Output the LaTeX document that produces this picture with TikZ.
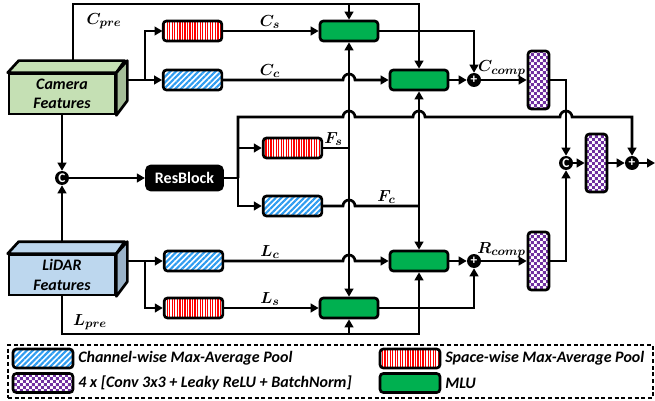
\documentclass[tikz,border=0pt]{standalone}
\usepackage{fontspec}
\usepackage{bm}
\usepackage{tikz}
\usetikzlibrary{positioning,arrows.meta,calc,patterns,patterns.meta}
\newfontfamily\calibri{Carlito}
\definecolor{CamGreen}{HTML}{C5E0B4}
\definecolor{CamSide}{HTML}{A5BD98}
\definecolor{LidarBlue}{HTML}{BDD7EE}
\definecolor{LidarSide}{HTML}{9AB2C8}
\definecolor{MluGreen}{HTML}{00B050}
\definecolor{ChkPurple}{HTML}{7030A0}
\definecolor{StripeBlue}{HTML}{2E9CF0}
\pgfdeclarepatternformonly{finecheck}{\pgfpointorigin}{\pgfqpoint{4.4pt}{4.4pt}}{\pgfqpoint{4.4pt}{4.4pt}}{%
  \pgfpathrectangle{\pgfpointorigin}{\pgfqpoint{2.2pt}{2.2pt}}%
  \pgfpathrectangle{\pgfqpoint{2.2pt}{2.2pt}}{\pgfqpoint{2.2pt}{2.2pt}}%
  \pgfusepath{fill}}

\begin{document}
\begin{tikzpicture}[x=0.75pt, y=0.75pt,
  feat/.style={draw=black, line width=2pt, minimum width=79.5pt, minimum height=30pt, inner sep=0pt, align=center, font=\calibri\bfseries\itshape\fontsize{12}{14.5}\selectfont},
  face/.style={draw=black, line width=2pt, line join=round},
  sbox/.style={draw, line width=2pt, rounded corners=2.5pt, inner sep=0pt, minimum width=44pt, minimum height=15pt, pattern={Lines[angle=90,distance=1.9pt,line width=0.95pt]}, pattern color=red},
  cbox/.style={draw, line width=2pt, rounded corners=2.5pt, inner sep=0pt, minimum width=44pt, minimum height=15pt, pattern={Lines[angle=45,distance=3pt,line width=1.6pt]}, pattern color=StripeBlue},
  mlu/.style={draw, line width=2pt, rounded corners=2.5pt, inner sep=0pt, fill=MluGreen, minimum width=43.5pt, minimum height=15pt},
  conv/.style={draw, line width=2pt, rounded corners=2.5pt, inner sep=0pt, pattern=finecheck, pattern color=ChkPurple, minimum width=15.75pt, minimum height=43.5pt},
  res/.style={fill=black, rounded corners=4pt, text=white, minimum width=59pt, minimum height=20pt, inner sep=0pt, font=\calibri\bfseries\fontsize{12}{14}\selectfont},
  op/.style={circle, fill=black, minimum size=10.5pt, inner sep=0pt, text=white, font=\calibri\bfseries\fontsize{10}{10}\selectfont},
  lbl/.style={anchor=south, inner sep=0pt, font=\fontsize{12.5}{14}\selectfont},
  leg/.style={anchor=west, inner sep=0pt, font=\calibri\bfseries\itshape\fontsize{12}{14}\selectfont},
  wire/.style={line width=2pt},
  flow/.style={-{Triangle[length=6pt,width=6.5pt]}, line width=2pt}]
\useasboundingbox (0,0) rectangle (655,400);

\node[feat, fill=CamGreen] (camera) at (62,306) {Camera\\Features};
\draw[face, fill=CamGreen] (camera.north west) -- ++(11,12) -- ++(106,0) -- (camera.north east) -- cycle;
\draw[face, fill=CamSide] (camera.north east) -- ++(11,12) -- ++(0,-40) -- (camera.south east) -- cycle;
\node[feat, fill=LidarBlue] (lidar) at (62,125) {LiDAR\\Features};
\draw[face, fill=LidarBlue] (lidar.north west) -- ++(11,12) -- ++(106,0) -- (lidar.north east) -- cycle;
\draw[face, fill=LidarSide] (lidar.north east) -- ++(11,12) -- ++(0,-40) -- (lidar.south east) -- cycle;

\node[op] (cat1) at (62,222) {C};
\node[res] (resblock) at (184.5,222) {ResBlock};

\node[sbox] (cs) at (192.5,369) {};
\node[cbox] (cc) at (192.5,320) {};
\node[sbox] (fs) at (292.5,252) {};
\node[cbox] (fc) at (292.5,194) {};
\node[cbox] (lc) at (193.5,139) {};
\node[sbox] (ls) at (193.5,92) {};

\node[mlu] (mlu1) at (349,369) {};
\node[mlu] (mlu2) at (419,320) {};
\node[mlu] (mlu4) at (419,139) {};
\node[mlu] (mlu3) at (349,92) {};

\node[op] (plusc) at (474,320) {+};
\node[op] (plusr) at (474,139) {+};
\node[conv] (conv1) at (538.5,320) {};
\node[conv] (conv3) at (538.5,139) {};
\node[op] (cat2) at (566,237) {C};
\node[conv] (conv2) at (596.5,237) {};
\node[op] (plusf) at (632,237) {+};

\coordinate (ctop) at (73,338);
\coordinate (topr) at (419,396);
\coordinate (ltop) at (62,157);
\coordinate (botr) at (419,66);
\coordinate (cout) at (126,320);
\coordinate (jc) at (145,320);
\coordinate (lout) at (126,139);
\coordinate (jl) at (145,139);
\coordinate (jr) at (238,222);
\coordinate (jfs) at (349,252);
\coordinate (jfc) at (419,194);
\coordinate (fout) at (655,237);

\draw[flow] (ctop) |- (topr) -- (mlu2.north);
\draw[flow] (mlu1.north |- topr) -- (mlu1.north);
\draw[flow] (lidar.south) |- (botr) -- (mlu4.south);
\draw[flow] (mlu3.south |- botr) -- (mlu3.south);

\draw[flow] (cout) -- (cc.west);
\draw[flow] (jc) |- (cs.west);
\draw[flow] (lout) -- (lc.west);
\draw[flow] (jl) |- (ls.west);

\draw[flow] (camera.south) -- (cat1.north);
\draw[flow] (ltop) -- (cat1.south);
\draw[flow] (cat1.east) -- (resblock.west);
\draw[wire] (resblock.east) -- (jr);
\draw[flow] (jr) |- (fs.west);
\draw[flow] (jr) |- (fc.west);
\draw[flow] (jr) |- (343,283) arc[start angle=180,end angle=0,radius=6] -- (413,283) arc[start angle=180,end angle=0,radius=6] -- (560,283) arc[start angle=180,end angle=0,radius=6] -| (plusf.north);

\draw[flow] (cs.east) -- (mlu1.west);
\draw[flow] (cc.east) -- (343,320) arc[start angle=180,end angle=0,radius=6] -- (mlu2.west);
\draw[flow] (lc.east) -- (343,139) arc[start angle=180,end angle=0,radius=6] -- (mlu4.west);
\draw[flow] (ls.east) -- (mlu3.west);

\draw[wire] (fs.east) -- (jfs);
\draw[flow] (jfs) -- (mlu1.south);
\draw[flow] (jfs) -- (mlu3.north);
\draw[wire] (fc.east) -- (343,194) arc[start angle=180,end angle=0,radius=6] -- (jfc);
\draw[flow] (jfc) -- (mlu2.south);
\draw[flow] (jfc) -- (mlu4.north);

\draw[flow] (mlu1.east) -| (plusc.north);
\draw[flow] (mlu2.east) -- (plusc.west);
\draw[flow] (mlu3.east) -| (plusr.south);
\draw[flow] (mlu4.east) -- (plusr.west);
\draw[flow] (plusc.east) -- (conv1.west);
\draw[flow] (plusr.east) -- (conv3.west);
\draw[flow] (conv1.east) -| (cat2.north);
\draw[flow] (conv3.east) -| (cat2.south);
\draw[flow] (cat2.east) -- (conv2.west);
\draw[flow] (conv2.east) -- (plusf.west);
\draw[flow] (plusf.east) -- (fout);

\node[lbl, anchor=center] (lcpre) at (104,379) {$\bm{C_{pre}}$};
\node[lbl] (lcs) at (270,371) {$\bm{C_{s}}$};
\node[lbl] (lcc) at (270,322) {$\bm{C_{c}}$};
\node[lbl] (lfs) at (333.5,254) {$\bm{F_{s}}$};
\node[lbl] (lfc) at (386.5,196) {$\bm{F_{c}}$};
\node[lbl] (llc) at (270,141) {$\bm{L_{c}}$};
\node[lbl] (lls) at (270,94) {$\bm{L_{s}}$};
\node[lbl, anchor=center] (llpre) at (90,78) {$\bm{L_{pre}}$};
\node[lbl] (lccomp) at (502,323) {$\bm{C_{comp}}$};
\node[lbl] (lrcomp) at (501.5,142) {$\bm{R_{comp}}$};

\node[draw, line width=1.3pt, dash pattern=on 3pt off 2pt, minimum width=483.75pt, minimum height=39.75pt, inner sep=0pt] (legend) at (330.5,28.5) {};
\node[cbox, minimum width=45pt, minimum height=14.25pt] (kc) at (43,41.5) {};
\node[conv, minimum width=45pt, minimum height=14.25pt] (kconv) at (43,17) {};
\node[sbox, minimum width=45pt, minimum height=14.25pt] (ks) at (410,41.5) {};
\node[mlu, minimum width=45pt, minimum height=14.25pt] (kmlu) at (410,17) {};
\node[leg] (tc) at (78,41.5) {Channel-wise Max-Average Pool};
\node[leg] (tconv) at (78,17) {4 x [Conv 3x3 + Leaky ReLU + BatchNorm]};
\node[leg] (ts) at (445,41.5) {Space-wise Max-Average Pool};
\node[leg] (tmlu) at (445,17) {MLU};
\end{tikzpicture}
\end{document}
